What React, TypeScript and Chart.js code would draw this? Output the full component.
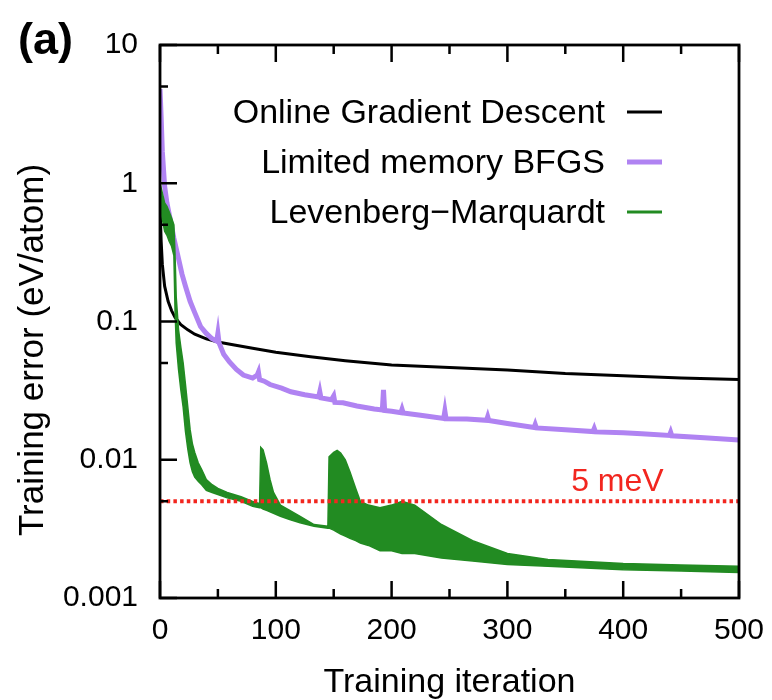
import React, { useEffect, useRef } from 'react';
import { Chart, registerables } from 'chart.js';

Chart.register(...registerables);

// ---------- data ----------
const ogdX = [0, 1, 2, 4, 7, 10, 13, 18, 24, 30, 40, 50, 63, 80, 100, 130, 160, 200, 250, 300, 350, 400, 450, 500];
const ogdY = [0.7, 0.38, 0.26, 0.18, 0.14, 0.12, 0.107, 0.095, 0.087, 0.081, 0.075, 0.071, 0.068, 0.064, 0.06, 0.0555, 0.052, 0.0485, 0.0465, 0.0445, 0.042, 0.0405, 0.039, 0.038];

const lbfgsX = [0, 1, 2, 4, 6, 9, 12, 15, 19, 22, 26, 30, 35, 40, 45, 49, 50, 51, 55, 60, 66, 72, 80, 84, 85, 86, 90, 95, 105, 113, 125, 137, 138, 139, 148, 150, 151, 158, 170, 185, 192, 193, 194, 200, 208, 209, 210, 225, 245, 246, 247, 265, 282, 283, 284, 300, 323, 324, 325, 350, 374, 375, 376, 400, 416, 440, 441, 442, 470, 500];
const lbfgsY = [4.8, 3.0, 1.7, 0.95, 0.72, 0.54, 0.4, 0.31, 0.22, 0.18, 0.14, 0.116, 0.092, 0.082, 0.075, 0.072, 0.082, 0.07, 0.058, 0.051, 0.045, 0.041, 0.039, 0.041, 0.043, 0.038, 0.037, 0.035, 0.033, 0.031, 0.0295, 0.0285, 0.031, 0.028, 0.0272, 0.029, 0.026, 0.0258, 0.0245, 0.0233, 0.0229, 0.032, 0.0227, 0.0224, 0.0219, 0.0232, 0.0218, 0.021, 0.0199, 0.0225, 0.0198, 0.0197, 0.0193, 0.0205, 0.0192, 0.0183, 0.0171, 0.018, 0.017, 0.0165, 0.016, 0.0168, 0.0159, 0.0157, 0.0154, 0.015, 0.0158, 0.0149, 0.0144, 0.0139];

const lmX = [0, 2, 4, 6, 8, 10, 12, 13, 14, 16, 18, 20, 22, 24, 26, 28, 30, 33, 36, 40, 45, 50, 58, 70, 80, 86, 87, 89, 92, 95, 98, 104, 112, 121, 133, 145, 146, 150, 153, 156, 160, 164, 169, 173, 180, 190, 200, 209, 220, 243, 270, 300, 335, 400, 450, 500];
const lmUpper = [1.0, 0.85, 0.72, 0.68, 0.62, 0.56, 0.5, 0.3, 0.15, 0.087, 0.065, 0.05, 0.035, 0.024, 0.0165, 0.013, 0.0113, 0.0095, 0.0085, 0.0072, 0.0066, 0.0062, 0.0058, 0.0054, 0.005, 0.0048, 0.0123, 0.0118, 0.0095, 0.0072, 0.0058, 0.0047, 0.0043, 0.0039, 0.0034, 0.0033, 0.0105, 0.0113, 0.0117, 0.0112, 0.01, 0.0082, 0.0062, 0.005, 0.0047, 0.0045, 0.0047, 0.005, 0.0047, 0.0034, 0.0026, 0.0021, 0.0019, 0.00178, 0.00173, 0.0017];
const lmLower = [0.7, 0.55, 0.45, 0.42, 0.38, 0.35, 0.3, 0.12, 0.07, 0.045, 0.032, 0.024, 0.016, 0.012, 0.0095, 0.0082, 0.0075, 0.007, 0.0066, 0.006, 0.0058, 0.0056, 0.0053, 0.005, 0.0046, 0.0045, 0.0045, 0.0044, 0.0043, 0.0042, 0.0041, 0.0039, 0.0037, 0.0035, 0.0033, 0.0032, 0.0032, 0.0031, 0.003, 0.0029, 0.0028, 0.0027, 0.0026, 0.0025, 0.0024, 0.0022, 0.0022, 0.0021, 0.0021, 0.00195, 0.00185, 0.00175, 0.0017, 0.0016, 0.00157, 0.00153];

const thresholdX = [0, 500];
const thresholdY = [0.005, 0.005];
const thresholdLabel = '5 meV';
const thresholdLabelX = 395;

const xTickValues = [0, 100, 200, 300, 400, 500];
const xMinorTicks = [50, 150, 250, 350, 450];
const yTickValues = [0.001, 0.01, 0.1, 1, 10];
const yTickLabels = ['0.001', '0.01', '0.1', '1', '10'];
const yMinorTicks = [0.005, 0.05, 0.5, 5];

const seriesLabels = ['Online Gradient Descent', 'Limited memory BFGS', 'Levenberg\u2212Marquardt'];
const xTitle = 'Training iteration';
const yTitle = 'Training error (eV/atom)';
const panelLabel = '(a)';

// ---------- styles ----------
const FONT = '"Liberation Sans", Arial, Helvetica, sans-serif';
const C_OGD = '#000000';
const C_LBFGS = '#b083f2';
const C_LM = '#228b22';
const C_RED = '#f2261f';
const seriesColors = [C_OGD, C_LBFGS, C_LM];
const legendWidths = [3, 5, 3];

const pts = (xs: number[], ys: number[]) => xs.map((x, i) => ({ x, y: ys[i] }));

const decor = {
  id: 'decor',
  afterDraw(chart: any) {
    const { ctx, chartArea: a, scales } = chart;
    const xs = scales.x;
    const ys = scales.y;
    ctx.save();
    // ticks
    ctx.strokeStyle = '#000';
    ctx.lineWidth = 2.5;
    ctx.beginPath();
    xTickValues.forEach((v) => {
      const px = xs.getPixelForValue(v);
      ctx.moveTo(px, a.bottom); ctx.lineTo(px, a.bottom - 17);
      ctx.moveTo(px, a.top); ctx.lineTo(px, a.top + 17);
    });
    xMinorTicks.forEach((v) => {
      const px = xs.getPixelForValue(v);
      ctx.moveTo(px, a.bottom); ctx.lineTo(px, a.bottom - 9);
      ctx.moveTo(px, a.top); ctx.lineTo(px, a.top + 9);
    });
    yTickValues.forEach((v) => {
      const py = ys.getPixelForValue(v);
      ctx.moveTo(a.left, py); ctx.lineTo(a.left + 17, py);
    });
    yMinorTicks.forEach((v) => {
      const py = ys.getPixelForValue(v);
      ctx.moveTo(a.left, py); ctx.lineTo(a.left + 8, py);
    });
    ctx.stroke();
    // frame
    ctx.lineWidth = 2.8;
    ctx.strokeRect(a.left, a.top, a.right - a.left, a.bottom - a.top);

    // legend
    ctx.font = `34px ${FONT}`;
    ctx.textAlign = 'right';
    ctx.textBaseline = 'alphabetic';
    ctx.fillStyle = '#000';
    seriesLabels.forEach((lab, i) => {
      const base = 123 + i * 50;
      ctx.fillText(lab, 605, base);
      ctx.beginPath();
      ctx.strokeStyle = seriesColors[i];
      ctx.lineWidth = legendWidths[i];
      ctx.moveTo(627, base - 11);
      ctx.lineTo(662, base - 11);
      ctx.stroke();
    });

    // threshold label
    ctx.font = `32px ${FONT}`;
    ctx.fillStyle = C_RED;
    ctx.textAlign = 'center';
    ctx.fillText(thresholdLabel, xs.getPixelForValue(thresholdLabelX), ys.getPixelForValue(thresholdY[0]) - 10);

    // y title
    ctx.save();
    ctx.font = `35px ${FONT}`;
    ctx.fillStyle = '#000';
    ctx.translate(43, 350);
    ctx.rotate(-Math.PI / 2);
    ctx.textAlign = 'center';
    ctx.fillText(yTitle, 0, 0);
    ctx.restore();

    // panel label
    ctx.font = `bold 45px ${FONT}`;
    ctx.fillStyle = '#000';
    ctx.textAlign = 'left';
    ctx.fillText(panelLabel, 18, 54);
    ctx.restore();
  },
};

export default function App() {
  const ref = useRef<HTMLCanvasElement>(null);
  useEffect(() => {
    if (!ref.current) return;
    const chart = new Chart(ref.current, {
      type: 'line',
      data: {
        datasets: [
          {
            label: 'threshold',
            data: pts(thresholdX, thresholdY),
            borderColor: C_RED,
            borderWidth: 4,
            borderDash: [3.5, 3.2],
            pointRadius: 0,
            order: 0,
          },
          {
            label: seriesLabels[2],
            data: pts(lmX, lmUpper),
            borderColor: C_LM,
            backgroundColor: C_LM,
            borderWidth: 1.5,
            pointRadius: 0,
            fill: '+1',
            order: 1,
          },
          {
            label: seriesLabels[2] + ' (lower)',
            data: pts(lmX, lmLower),
            borderColor: C_LM,
            borderWidth: 1.5,
            pointRadius: 0,
            fill: false,
            order: 2,
          },
          {
            label: seriesLabels[1],
            data: pts(lbfgsX, lbfgsY),
            borderColor: C_LBFGS,
            borderWidth: 5,
            pointRadius: 0,
            order: 3,
          },
          {
            label: seriesLabels[0],
            data: pts(ogdX, ogdY),
            borderColor: C_OGD,
            borderWidth: 3,
            pointRadius: 0,
            order: 4,
          },
        ],
      },
      options: {
        responsive: false,
        animation: false,
        layout: { padding: { top: 45, right: 33, left: 0, bottom: 0 } },
        plugins: {
          legend: { display: false },
          tooltip: { enabled: false },
        },
        elements: { line: { tension: 0 } },
        scales: {
          x: {
            type: 'linear',
            min: 0,
            max: 500,
            afterBuildTicks: (s: any) => { s.ticks = xTickValues.map((v) => ({ value: v })); },
            ticks: { font: { family: FONT, size: 30 }, color: '#000', padding: 15, maxRotation: 0 },
            grid: { display: false, drawTicks: false },
            border: { display: false },
            title: { display: true, text: xTitle, color: '#000', font: { family: FONT, size: 34, lineHeight: 1 }, padding: 0 },
            afterFit: (s: any) => { s.height = 102; s.paddingLeft = 0; s.paddingRight = 0; },
          },
          y: {
            type: 'logarithmic',
            min: 0.001,
            max: 10,
            afterBuildTicks: (s: any) => { s.ticks = yTickValues.map((v) => ({ value: v })); },
            ticks: {
              font: { family: FONT, size: 30 },
              color: '#000',
              padding: 22,
              callback: (_v: any, i: number) => yTickLabels[i],
            },
            grid: { display: false, drawTicks: false },
            border: { display: false },
            afterFit: (s: any) => { s.width = 160; s.paddingTop = 0; s.paddingBottom = 0; },
          },
        },
      } as any,
      plugins: [decor],
    });
    return () => chart.destroy();
  }, []);
  return (
    <div style={{ position: 'absolute', left: 0, top: 0, width: 772, height: 700, background: '#fff' }}>
      <canvas ref={ref} width={772} height={700} style={{ display: 'block' }} />
    </div>
  );
}
